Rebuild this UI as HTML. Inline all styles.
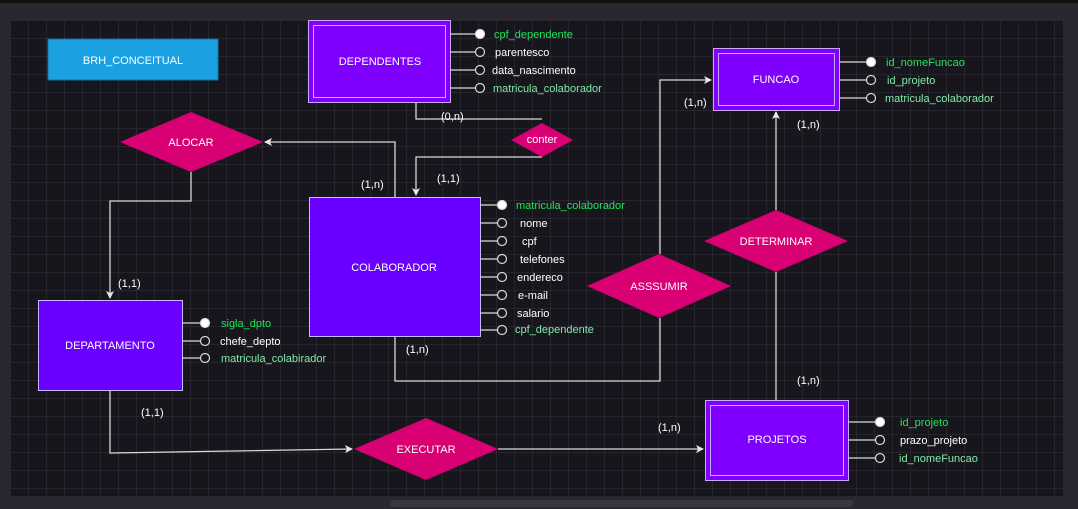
<!DOCTYPE html>
<html><head><meta charset="utf-8"><style>
html,body{margin:0;padding:0;background:#2a2730;width:1078px;height:509px;overflow:hidden}
svg{display:block}
text{font-family:"Liberation Sans",sans-serif;font-size:11px}
</style></head><body>
<svg width="1078" height="509" viewBox="0 0 1078 509" xmlns="http://www.w3.org/2000/svg">
<defs>
<pattern id="g" width="18" height="18" patternUnits="userSpaceOnUse" x="11" y="21">
<path d="M18 0V18H0" fill="none" stroke="#35333b" stroke-width="1"/>
</pattern>
<marker id="a" markerWidth="8" markerHeight="8" refX="7" refY="4" orient="auto" markerUnits="userSpaceOnUse">
<path d="M0,0 L8,4 L0,8 L2,4z" fill="#e8e8e8"/>
</marker>
</defs>
<rect x="0" y="0" width="1078" height="3" fill="#111"/>
<rect x="11" y="21" width="1052" height="475" fill="#18161d"/>
<rect x="11" y="21" width="1052" height="475" fill="url(#g)"/>
<rect x="390" y="500" width="463" height="7" rx="3" fill="#3a3740"/>

<g fill="none" stroke="#d8d8d8" stroke-width="1.3">
<path d="M416 102V119H542"/>
<path d="M542 157H416V195" marker-end="url(#a)"/>
<path d="M395 197V142H265" marker-end="url(#a)"/>
<path d="M191 172V201H110V298" marker-end="url(#a)"/>
<path d="M395 336V381H660V318"/>
<path d="M660 254V80H711" marker-end="url(#a)"/>
<path d="M776 210V112" marker-end="url(#a)"/>
<path d="M776 400V272"/>
<path d="M110 390V453L352 449" marker-end="url(#a)"/>
<path d="M498 449H703" marker-end="url(#a)"/>
</g>

<rect x="48" y="39" width="170" height="41" fill="#1ba1e2" stroke="#10739e"/>
<text x="133" y="64" fill="#fff" text-anchor="middle">BRH_CONCEITUAL</text>

<rect x="308.5" y="20.5" width="142" height="82" fill="#7f00ff" stroke="#c9a8ff"/>
<rect x="313.5" y="25.5" width="132" height="72" fill="none" stroke="#c9a8ff"/>
<text x="380" y="65" fill="#fff" text-anchor="middle">DEPENDENTES</text>

<rect x="713.5" y="48.5" width="126" height="62" fill="#7f00ff" stroke="#c9a8ff"/>
<rect x="718.5" y="53.5" width="116" height="52" fill="none" stroke="#c9a8ff"/>
<text x="776" y="83" fill="#fff" text-anchor="middle">FUNCAO</text>

<rect x="309.5" y="197.5" width="171" height="139" fill="#6a00ff" stroke="#c9b8ff"/>
<text x="394" y="271" fill="#fff" text-anchor="middle">COLABORADOR</text>

<rect x="38.5" y="300.5" width="144" height="90" fill="#6a00ff" stroke="#c9b8ff"/>
<text x="110" y="349" fill="#fff" text-anchor="middle">DEPARTAMENTO</text>

<rect x="705.5" y="400.5" width="143" height="80" fill="#7f00ff" stroke="#c9a8ff"/>
<rect x="710.5" y="405.5" width="133" height="70" fill="none" stroke="#c9a8ff"/>
<text x="777" y="443" fill="#fff" text-anchor="middle">PROJETOS</text>

<g fill="#d80073">
<polygon points="120,142 191,112 263,142 191,172"/>
<polygon points="511,140 542,123 573,140 542,157"/>
<polygon points="587,286 659,254 731,286 659,318"/>
<polygon points="704,241 776,210 848,241 776,272"/>
<polygon points="354,449 426,418 498,449 426,480"/>
</g>
<g fill="#fff" text-anchor="middle">
<text x="191" y="146">ALOCAR</text>
<text x="542" y="143">conter</text>
<text x="659" y="290">ASSSUMIR</text>
<text x="776" y="245">DETERMINAR</text>
<text x="426" y="453">EXECUTAR</text>
</g>

<g stroke="#d8d8d8" stroke-width="1.2">
<path d="M450 34H476M450 52H476M450 70H476M450 88H476"/>
<path d="M839 62H866M839 80H866M839 98H866"/>
<path d="M480 205H497M480 223H497M480 241H497M480 259H497M480 277H497M480 295H497M480 313H497M480 330H497"/>
<path d="M182 323H200M182 341H200M182 358H200"/>
<path d="M848 422H875M848 440H875M848 458H875"/>
</g>
<g stroke="#d8d8d8" stroke-width="1.2" fill="#18161d">
<circle cx="480" cy="34" r="4.5" fill="#fff"/><circle cx="480" cy="52" r="4.5"/><circle cx="480" cy="70" r="4.5"/><circle cx="480" cy="88" r="4.5"/>
<circle cx="871" cy="62" r="4.5" fill="#fff"/><circle cx="871" cy="80" r="4.5"/><circle cx="871" cy="98" r="4.5"/>
<circle cx="502" cy="205" r="4.5" fill="#fff"/><circle cx="502" cy="223" r="4.5"/><circle cx="502" cy="241" r="4.5"/><circle cx="502" cy="259" r="4.5"/><circle cx="502" cy="277" r="4.5"/><circle cx="502" cy="295" r="4.5"/><circle cx="502" cy="313" r="4.5"/><circle cx="502" cy="330" r="4.5"/>
<circle cx="205" cy="323" r="4.5" fill="#fff"/><circle cx="205" cy="341" r="4.5"/><circle cx="205" cy="358" r="4.5"/>
<circle cx="880" cy="422" r="4.5" fill="#fff"/><circle cx="880" cy="440" r="4.5"/><circle cx="880" cy="458" r="4.5"/>
</g>
<g>
<text x="494" y="38" fill="#1ee65a">cpf_dependente</text>
<text x="495" y="56" fill="#fff">parentesco</text>
<text x="492" y="74" fill="#fff">data_nascimento</text>
<text x="493" y="92" fill="#80e8a8">matricula_colaborador</text>
<text x="886" y="66" fill="#1ee65a">id_nomeFuncao</text>
<text x="887" y="84" fill="#80e8a8">id_projeto</text>
<text x="885" y="102" fill="#80e8a8">matricula_colaborador</text>
<text x="516" y="209" fill="#1ee65a">matricula_colaborador</text>
<text x="520" y="227" fill="#fff">nome</text>
<text x="522" y="245" fill="#fff">cpf</text>
<text x="520" y="263" fill="#fff">telefones</text>
<text x="517" y="281" fill="#fff">endereco</text>
<text x="518" y="299" fill="#fff">e-mail</text>
<text x="517" y="317" fill="#fff">salario</text>
<text x="515" y="333" fill="#80e8a8">cpf_dependente</text>
<text x="221" y="327" fill="#1ee65a">sigla_dpto</text>
<text x="220" y="345" fill="#fff">chefe_depto</text>
<text x="221" y="362" fill="#80e8a8">matricula_colabirador</text>
<text x="900" y="426" fill="#1ee65a">id_projeto</text>
<text x="900" y="444" fill="#fff">prazo_projeto</text>
<text x="899" y="462" fill="#80e8a8">id_nomeFuncao</text>
</g>
<g fill="#fff">
<text x="441" y="120">(0,n)</text>
<text x="437" y="182">(1,1)</text>
<text x="361" y="188">(1,n)</text>
<text x="118" y="287">(1,1)</text>
<text x="406" y="353">(1,n)</text>
<text x="684" y="106">(1,n)</text>
<text x="797" y="128">(1,n)</text>
<text x="797" y="384">(1,n)</text>
<text x="141" y="416">(1,1)</text>
<text x="658" y="431">(1,n)</text>
</g>
</svg>
</body></html>
